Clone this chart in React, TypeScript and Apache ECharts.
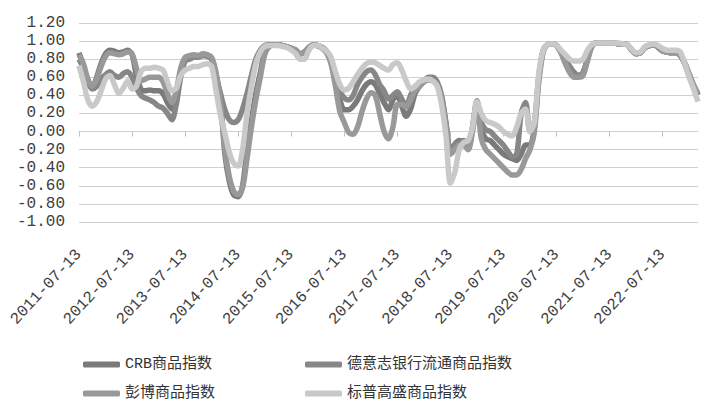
import React, { useEffect, useRef } from "react";
import * as echarts from "echarts";

// monthly categories 2011-07-13 ... 2023-03-13
const categories: string[] = [];
for (let i = 0; i <= 140; i++) {
  const y = 2011 + Math.floor((6 + i) / 12);
  const m = ((6 + i) % 12) + 1;
  categories.push(`${y}-${m < 10 ? "0" + m : m}-13`);
}

const seriesNames = ["CRB商品指数", "德意志银行流通商品指数", "彭博商品指数", "标普高盛商品指数"];

const crb = [
  0.87, 0.72, 0.55, 0.48, 0.6, 0.75, 0.86, 0.9, 0.89, 0.87,
  0.88, 0.9, 0.85, 0.62, 0.47, 0.45, 0.46, 0.45, 0.45, 0.42,
  0.32, 0.25, 0.4, 0.65, 0.8, 0.82, 0.84, 0.83, 0.85, 0.84,
  0.8, 0.62, 0.35, -0.25, -0.55, -0.7, -0.72, -0.6, -0.2, 0.12,
  0.42, 0.65, 0.88, 0.94, 0.96, 0.96, 0.95, 0.94, 0.92, 0.9,
  0.86, 0.88, 0.93, 0.96, 0.95, 0.92, 0.88, 0.78, 0.55, 0.35,
  0.24, 0.24, 0.28, 0.35, 0.45, 0.52, 0.55, 0.52, 0.42, 0.32,
  0.24, 0.35, 0.4, 0.28, 0.17, 0.25, 0.42, 0.5, 0.55, 0.58,
  0.58, 0.53, 0.38, 0.08, -0.22, -0.14, -0.1, -0.12, -0.18, 0.03,
  0.32, 0.02, -0.08, -0.1, -0.15, -0.2, -0.25, -0.28, -0.3, -0.32,
  -0.25, -0.15, -0.15, 0.05, 0.6, 0.9, 0.96, 0.97, 0.95, 0.88,
  0.78, 0.7, 0.65, 0.62, 0.65, 0.8, 0.95, 0.98, 0.98, 0.98,
  0.98, 0.98, 0.97, 0.97, 0.96, 0.9, 0.86, 0.87, 0.93, 0.95,
  0.96, 0.93, 0.89, 0.88, 0.87, 0.87, 0.84, 0.75, 0.62, 0.5, 0.4,
];

const deutsche = [
  0.8, 0.7, 0.55, 0.47, 0.5, 0.58, 0.63, 0.66, 0.62, 0.6,
  0.64, 0.66, 0.6, 0.48, 0.4, 0.37, 0.35, 0.32, 0.28, 0.26,
  0.2, 0.13, 0.3, 0.6, 0.78, 0.8, 0.82, 0.82, 0.84, 0.83,
  0.8, 0.62, 0.42, 0.24, 0.13, 0.1, 0.13, 0.25, 0.42, 0.62,
  0.8, 0.9, 0.95, 0.96, 0.96, 0.96, 0.95, 0.94, 0.92, 0.9,
  0.86, 0.88, 0.93, 0.96, 0.95, 0.93, 0.89, 0.8, 0.62, 0.45,
  0.37, 0.35, 0.4, 0.52, 0.6, 0.66, 0.68, 0.63, 0.52, 0.45,
  0.36, 0.4, 0.44, 0.36, 0.28, 0.4, 0.5, 0.53, 0.56, 0.6,
  0.6, 0.55, 0.4, 0.1, -0.2, -0.15, -0.12, -0.1, -0.15, 0.05,
  0.34, 0.1, 0.02, 0.0, -0.05, -0.1, -0.15, -0.22, -0.28, -0.25,
  0.2, 0.32, 0.0, 0.1, 0.6, 0.9, 0.96, 0.97, 0.95, 0.88,
  0.8, 0.72, 0.65, 0.62, 0.65, 0.8, 0.95, 0.98, 0.98, 0.98,
  0.98, 0.98, 0.97, 0.97, 0.96, 0.9, 0.86, 0.87, 0.93, 0.95,
  0.96, 0.93, 0.89, 0.88, 0.87, 0.87, 0.84, 0.75, 0.62, 0.5, 0.4,
];

const bloomberg = [
  0.85, 0.75, 0.58, 0.5, 0.58, 0.72, 0.83, 0.87, 0.86, 0.85,
  0.86, 0.88, 0.86, 0.7, 0.56, 0.58, 0.6, 0.6, 0.6, 0.55,
  0.42, 0.32, 0.45, 0.7, 0.82, 0.84, 0.85, 0.84, 0.86, 0.85,
  0.82, 0.65, 0.3, -0.2, -0.5, -0.66, -0.7, -0.62, -0.3, 0.05,
  0.35, 0.6, 0.85, 0.94, 0.96, 0.96, 0.95, 0.94, 0.92, 0.9,
  0.86, 0.88, 0.93, 0.96, 0.95, 0.92, 0.87, 0.75, 0.5, 0.22,
  0.1, -0.01, -0.03, 0.05, 0.22, 0.36, 0.43, 0.4, 0.2, 0.0,
  -0.08, 0.05, 0.3, 0.3, 0.27, 0.35, 0.45, 0.5, 0.55, 0.57,
  0.56, 0.52, 0.35, 0.05, -0.25, -0.2, -0.15, -0.15, -0.2, 0.0,
  0.3, -0.08, -0.2, -0.25, -0.3, -0.35, -0.4, -0.45, -0.48, -0.48,
  -0.42, -0.3, -0.2, 0.0, 0.55, 0.88, 0.96, 0.97, 0.95, 0.87,
  0.75, 0.65, 0.6, 0.6, 0.62, 0.78, 0.94, 0.98, 0.98, 0.98,
  0.98, 0.98, 0.97, 0.97, 0.96, 0.9, 0.86, 0.87, 0.93, 0.95,
  0.96, 0.93, 0.89, 0.88, 0.87, 0.87, 0.84, 0.76, 0.64, 0.52, 0.42,
];

const gsci = [
  0.73, 0.55, 0.35, 0.28, 0.33, 0.45, 0.58, 0.62, 0.52, 0.42,
  0.48, 0.56, 0.47, 0.5, 0.66, 0.7, 0.7, 0.71, 0.7, 0.68,
  0.55, 0.45, 0.48, 0.62, 0.68, 0.7, 0.72, 0.72, 0.74, 0.75,
  0.72, 0.45, 0.18, -0.02, -0.23, -0.35, -0.38, -0.2, 0.2, 0.5,
  0.75, 0.88, 0.94, 0.95, 0.95, 0.95, 0.94, 0.93, 0.9, 0.86,
  0.8, 0.8, 0.9, 0.95, 0.95, 0.92, 0.89, 0.82, 0.66, 0.52,
  0.46, 0.48, 0.55, 0.63, 0.7, 0.75, 0.77, 0.76, 0.73, 0.7,
  0.68, 0.74, 0.76, 0.68, 0.56, 0.47, 0.5, 0.55, 0.57, 0.58,
  0.56, 0.5, 0.3, -0.05, -0.57, -0.45, -0.2, -0.12, -0.1, 0.05,
  0.33, 0.2, 0.12, 0.1, 0.08, 0.05, 0.0, -0.03, -0.05, 0.05,
  0.2, 0.25, 0.0, 0.1, 0.65, 0.9, 0.96, 0.97, 0.95, 0.9,
  0.85, 0.8, 0.78, 0.78, 0.8, 0.9, 0.96, 0.98, 0.98, 0.98,
  0.98, 0.98, 0.98, 0.97, 0.96, 0.91, 0.87, 0.88, 0.94, 0.96,
  0.97, 0.95, 0.92, 0.9, 0.9, 0.9, 0.88, 0.75, 0.6, 0.47, 0.33,
];

const seriesData = [crb, deutsche, bloomberg, gsci];
const colors = ["#7a7a7a", "#878787", "#999999", "#c9c9c9"];
const FONT = "'Liberation Mono', 'Noto Sans CJK SC', monospace";

export default function App() {
  const ref = useRef<HTMLDivElement>(null);
  useEffect(() => {
    if (!ref.current) return;
    const chart = echarts.init(ref.current, null, { renderer: "svg" });
    const legendPos = [
      { left: 78, top: 352 },
      { left: 300, top: 352 },
      { left: 78, top: 381 },
      { left: 300, top: 381 },
    ];
    chart.setOption({
      animation: false,
      backgroundColor: "#ffffff",
      grid: { left: 79, right: 8, top: 23, bottom: 193, containLabel: false },
      legend: seriesNames.map((n, i) => ({
        data: [n],
        left: legendPos[i].left,
        top: legendPos[i].top,
        icon: "roundRect",
        itemWidth: 37,
        itemHeight: 6,
        selectedMode: false,
        textStyle: { fontFamily: FONT, fontSize: 15, color: "#333333" },
      })),
      xAxis: [
        {
          type: "category",
          data: categories,
          boundaryGap: false,
          axisLine: { show: true, onZero: true, lineStyle: { color: "#d0d0d0", width: 1 } },
          axisTick: { show: true, interval: 11, length: 5, lineStyle: { color: "#c0c0c0" } },
          axisLabel: { show: false },
          splitLine: { show: false },
        },
        {
          type: "category",
          data: categories,
          boundaryGap: false,
          position: "bottom",
          axisLine: { show: false, onZero: false },
          axisTick: { show: false },
          splitLine: { show: false },
          axisLabel: {
            interval: 11,
            rotate: 47,
            margin: 30,
            fontFamily: FONT,
            fontSize: 16,
            color: "#404040",
          },
        },
      ],
      yAxis: {
        type: "value",
        min: -1,
        max: 1.2,
        interval: 0.2,
        axisLine: { show: false },
        axisTick: { show: false },
        splitLine: { show: true, lineStyle: { color: "#d0d0d0", width: 1 } },
        axisLabel: {
          margin: 14,
          fontFamily: FONT,
          fontSize: 16,
          color: "#404040",
          formatter: (v: number) => v.toFixed(2),
        },
      },
      series: seriesNames.map((n, i) => ({
        name: n,
        type: "line",
        xAxisIndex: 0,
        data: seriesData[i],
        showSymbol: false,
        symbol: "none",
        smooth: 0.3,
        color: colors[i],
        lineStyle: { width: 5.5, color: colors[i] },
      })),
    });
    return () => chart.dispose();
  }, []);
  return (
    <div
      ref={ref}
      style={{ position: "fixed", left: 0, top: 0, width: 706, height: 415, background: "#fff" }}
    />
  );
}
